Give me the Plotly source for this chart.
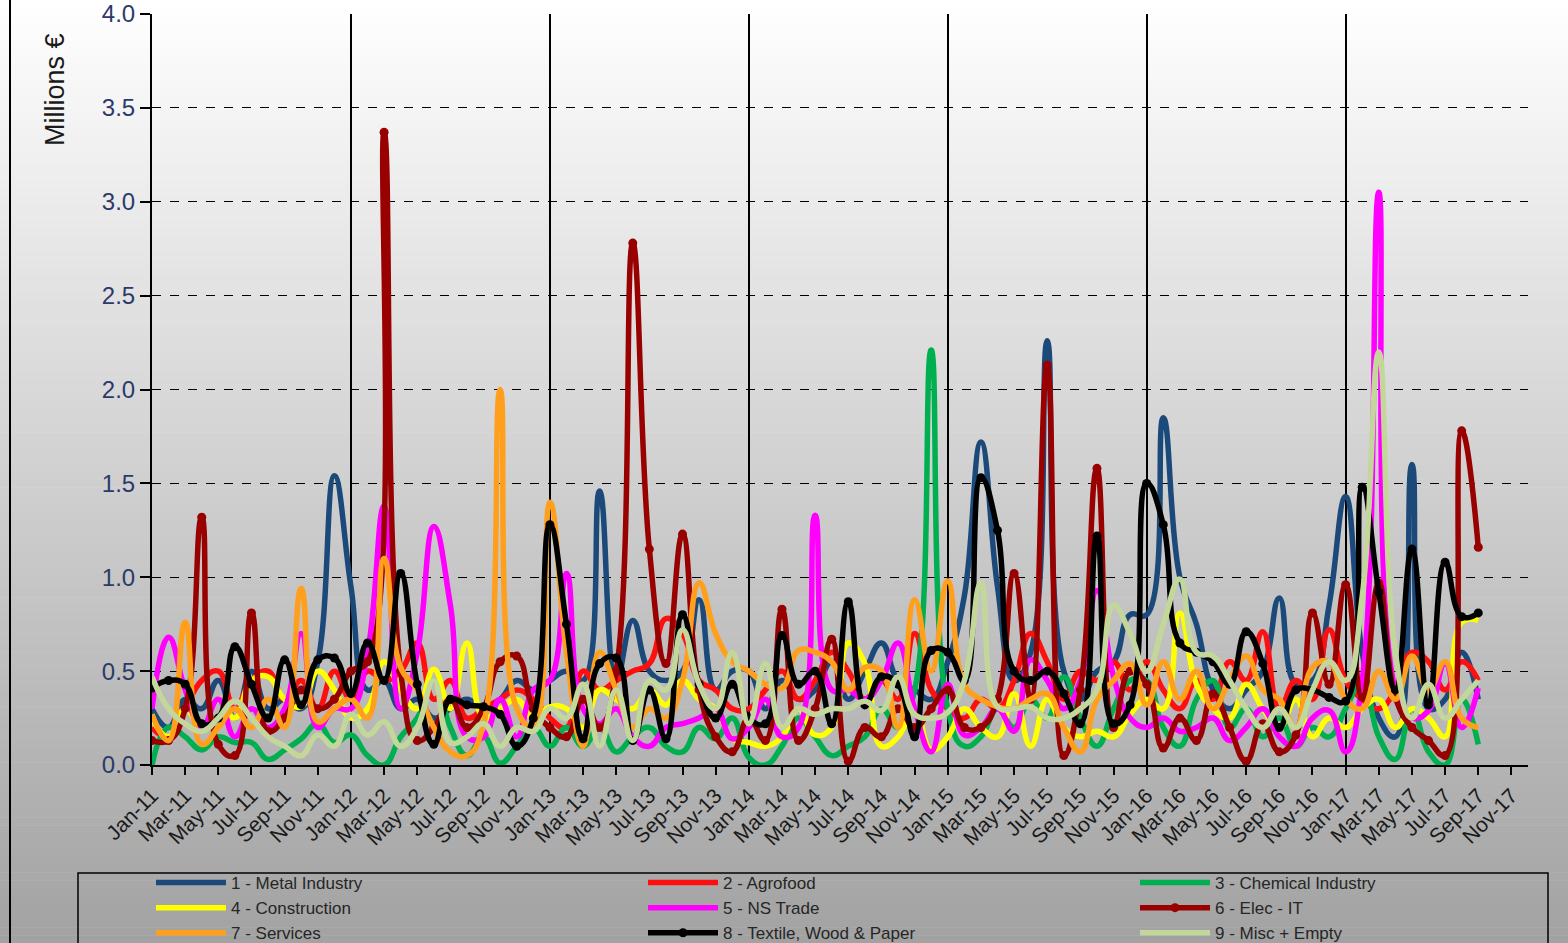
import plotly.graph_objects as go

# ---------------- data ----------------
MONTH_NAMES = ["Jan", "Feb", "Mar", "Apr", "May", "Jun", "Jul", "Aug", "Sep", "Oct", "Nov", "Dec"]
YEARS = ["11", "12", "13", "14", "15", "16", "17"]
ALL_MONTHS = [f"{m}-{y}" for y in YEARS for m in MONTH_NAMES]   # axis runs Jan-11 .. Dec-17
MONTHS = ALL_MONTHS[:81]                                          # data Jan-11 .. Sep-17
TICK_LABELS = ALL_MONTHS[::2]                                     # Jan-11, Mar-11, ... Nov-17
GRID_MONTHS = [m for m in ALL_MONTHS if m.startswith("Jan")]

SERIES_NAMES = ["1 - Metal Industry", "2 - Agrofood", "3 - Chemical Industry",
                "4 - Construction", "5 - NS Trade", "6 - Elec - IT",
                "7 - Services", "8 - Textile, Wood & Paper", "9 - Misc + Empty"]

METAL = [0.30, 0.20, 0.35, 0.30, 0.45, 0.25, 0.50, 0.30, 0.35, 0.30, 0.55, 1.54,
         0.95, 0.40, 0.45, 0.30, 0.35, 0.25, 0.30, 0.35, 0.30, 0.35, 0.45, 0.40,
         0.45, 0.50, 0.45, 1.46, 0.45, 0.77, 0.50, 0.45, 0.50, 0.88, 0.40, 0.50,
         0.50, 0.30, 0.45, 0.35, 0.40, 0.55, 0.35, 0.50, 0.65, 0.45, 0.40, 0.35,
         0.55, 0.90, 1.72, 0.95, 0.45, 0.60, 2.26, 0.50, 0.35, 0.50, 0.55, 0.80,
         0.80, 1.85, 1.00, 0.75, 0.40, 0.30, 0.40, 0.50, 0.89, 0.43, 0.45, 0.85,
         1.43, 0.60, 0.25, 0.15, 1.60, 0.30, 0.35, 0.60, 0.35]
AGROFOOD = [0.20, 0.15, 0.30, 0.45, 0.50, 0.30, 0.45, 0.50, 0.35, 0.45, 0.30, 0.50,
            0.35, 0.50, 0.45, 0.50, 0.65, 0.35, 0.45, 0.25, 0.30, 0.35, 0.40, 0.35,
            0.25, 0.20, 0.50, 0.40, 0.45, 0.50, 0.54, 0.78, 0.70, 0.45, 0.40, 0.30,
            0.30, 0.40, 0.50, 0.35, 0.45, 0.60, 0.50, 0.35, 0.45, 0.35, 0.70, 0.40,
            0.30, 0.25, 0.35, 0.30, 0.45, 0.70, 0.55, 0.35, 0.50, 0.45, 0.55, 0.40,
            0.55, 0.40, 0.30, 0.45, 0.35, 0.55, 0.45, 0.71, 0.30, 0.45, 0.35, 0.72,
            0.45, 0.35, 0.30, 0.40, 0.60, 0.55, 0.40, 0.55, 0.45]
CHEMICAL = [0.00, 0.20, 0.15, 0.08, 0.15, 0.12, 0.12, 0.03, 0.08, 0.14, 0.22, 0.12,
            0.16, 0.05, 0.00, 0.15, 0.25, 0.45, 0.20, 0.05, 0.15, 0.01, 0.10, 0.20,
            0.10, 0.20, 0.10, 0.20, 0.07, 0.15, 0.20, 0.10, 0.07, 0.20, 0.14, 0.25,
            0.04, 0.00, 0.10, 0.25, 0.15, 0.05, 0.10, 0.15, 0.30, 0.20, 0.40, 2.21,
            0.30, 0.10, 0.15, 0.30, 0.20, 0.35, 0.25, 0.47, 0.25, 0.10, 0.30, 0.45,
            0.45, 0.20, 0.10, 0.35, 0.45, 0.20, 0.30, 0.15, 0.25, 0.10, 0.20, 0.15,
            0.30, 0.45, 0.15, 0.03, 0.30, 0.07, 0.00, 0.35, 0.11]
CONSTRUCTION = [0.25, 0.15, 0.30, 0.20, 0.35, 0.25, 0.45, 0.47, 0.35, 0.31, 0.50, 0.40,
                0.25, 0.30, 0.55, 0.40, 0.30, 0.51, 0.30, 0.65, 0.25, 0.30, 0.35, 0.25,
                0.31, 0.30, 0.20, 0.40, 0.35, 0.30, 0.40, 0.32, 0.45, 0.35, 0.30, 0.14,
                0.12, 0.10, 0.15, 0.30, 0.16, 0.20, 0.65, 0.54, 0.10, 0.15, 0.30, 0.08,
                0.15, 0.30, 0.20, 0.15, 0.38, 0.10, 0.35, 0.20, 0.15, 0.18, 0.15, 0.27,
                0.35, 0.30, 0.81, 0.43, 0.30, 0.25, 0.43, 0.30, 0.20, 0.35, 0.15, 0.25,
                0.20, 0.30, 0.35, 0.20, 0.30, 0.25, 0.15, 0.76, 0.77]
NS_TRADE = [0.30, 0.68, 0.40, 0.20, 0.35, 0.15, 0.30, 0.20, 0.30, 0.70, 0.20, 0.30,
            0.30, 0.60, 1.38, 0.30, 0.60, 1.27, 0.85, 0.15, 0.15, 0.35, 0.15, 0.40,
            0.45, 1.02, 0.30, 0.22, 0.30, 0.15, 0.10, 0.20, 0.22, 0.25, 0.30, 0.14,
            0.20, 0.35, 0.15, 0.20, 1.33, 0.40, 0.40, 0.35, 0.45, 0.65, 0.30, 0.07,
            0.43, 0.16, 0.20, 0.30, 0.18, 0.56, 0.45, 0.30, 0.45, 0.93, 0.47, 0.25,
            0.20, 0.25, 0.18, 0.20, 0.25, 0.13, 0.20, 0.30, 0.15, 0.10, 0.25, 0.29,
            0.07, 0.45, 3.05, 0.40, 0.25, 0.29, 0.54, 0.20, 0.41]
ELEC_IT = [0.13, 0.13, 0.30, 1.32, 0.11, 0.05, 0.81, 0.18, 0.25, 0.40, 0.30, 0.35,
           0.50, 0.55, 3.37, 0.50, 0.13, 0.20, 0.35, 0.20, 0.30, 0.55, 0.58, 0.30,
           0.20, 0.15, 0.35, 0.20, 0.50, 2.78, 1.15, 0.54, 1.23, 0.40, 0.15, 0.07,
           0.25, 0.13, 0.83, 0.13, 0.30, 0.67, 0.02, 0.20, 0.15, 0.30, 0.20, 0.30,
           0.40, 0.20, 0.20, 0.35, 1.02, 0.35, 2.13, 0.05, 0.40, 1.58, 0.20, 0.50,
           0.43, 0.09, 0.25, 0.13, 0.38, 0.20, 0.02, 0.22, 0.07, 0.16, 0.81, 0.43,
           0.96, 0.36, 0.97, 0.36, 0.20, 0.13, 0.05, 1.78, 1.16]
SERVICES = [0.27, 0.13, 0.76, 0.11, 0.20, 0.30, 0.20, 0.35, 0.20, 0.94, 0.23, 0.30,
            0.35, 0.25, 1.10, 0.52, 0.40, 0.20, 0.07, 0.05, 0.22, 2.00, 0.30, 0.20,
            1.40, 0.60, 0.10, 0.60, 0.40, 0.20, 0.30, 0.25, 0.45, 0.97, 0.70, 0.55,
            0.50, 0.43, 0.41, 0.61, 0.60, 0.55, 0.40, 0.52, 0.50, 0.20, 0.88, 0.50,
            0.98, 0.43, 0.35, 0.31, 0.30, 0.35, 0.38, 0.20, 0.07, 0.35, 0.45, 0.54,
            0.32, 0.55, 0.35, 0.50, 0.30, 0.45, 0.58, 0.40, 0.35, 0.20, 0.52, 0.55,
            0.35, 0.30, 0.50, 0.35, 0.58, 0.40, 0.55, 0.25, 0.20]
TEXTILE = [0.41, 0.45, 0.43, 0.22, 0.25, 0.63, 0.43, 0.25, 0.56, 0.32, 0.56, 0.57,
           0.38, 0.65, 0.45, 1.02, 0.43, 0.11, 0.35, 0.32, 0.31, 0.27, 0.10, 0.25,
           1.28, 0.75, 0.14, 0.54, 0.57, 0.13, 0.40, 0.14, 0.80, 0.43, 0.25, 0.43,
           0.25, 0.22, 0.69, 0.43, 0.50, 0.22, 0.87, 0.32, 0.47, 0.43, 0.15, 0.61,
           0.60, 0.45, 1.53, 1.25, 0.50, 0.45, 0.50, 0.38, 0.22, 1.22, 0.22, 0.32,
           1.50, 1.28, 0.65, 0.60, 0.55, 0.43, 0.71, 0.54, 0.20, 0.40, 0.40, 0.36,
           0.34, 1.48, 0.92, 0.40, 1.15, 0.32, 1.08, 0.79, 0.81]
MISC = [0.47, 0.30, 0.22, 0.18, 0.25, 0.34, 0.25, 0.15, 0.10, 0.05, 0.16, 0.10,
        0.27, 0.16, 0.23, 0.10, 0.20, 0.45, 0.12, 0.15, 0.22, 0.10, 0.20, 0.18,
        0.30, 0.25, 0.43, 0.10, 0.40, 0.13, 0.45, 0.40, 0.72, 0.43, 0.30, 0.60,
        0.22, 0.54, 0.20, 0.30, 0.27, 0.30, 0.30, 0.34, 0.29, 0.47, 0.27, 0.25,
        0.28, 0.45, 0.97, 0.31, 0.30, 0.31, 0.25, 0.25, 0.30, 0.40, 0.85, 0.70,
        0.50, 0.75, 0.99, 0.60, 0.58, 0.45, 0.30, 0.20, 0.30, 0.20, 0.40, 0.55,
        0.45, 0.90, 2.20, 0.60, 0.25, 0.43, 0.25, 0.35, 0.45]

SERIES_VALUES = [METAL, AGROFOOD, CHEMICAL, CONSTRUCTION, NS_TRADE, ELEC_IT, SERVICES, TEXTILE, MISC]

# ---------------- style ----------------
COLORS = ["#1B4A7A", "#FF1010", "#00B050", "#FFFF00", "#FF00FF",
          "#990000", "#FF9F1C", "#000000", "#C4D79B"]
WITH_MARKERS = [False, False, False, False, False, True, False, True, False]
FONT = "Liberation Sans, Arial, sans-serif"

W, H = 1568, 943
L, R, T, B = 152, 40, 14, 178
PW, PH = W - L - R, H - T - B


def px_x(x):
    return (x - L) / PW


def px_y(y):
    return (H - B - y) / PH


x_pos = [ALL_MONTHS.index(m) for m in MONTHS]

fig = go.Figure()
for name, vals, color, mk in zip(SERIES_NAMES, SERIES_VALUES, COLORS, WITH_MARKERS):
    fig.add_trace(go.Scatter(
        x=x_pos, y=vals, name=name,
        mode="lines+markers" if mk else "lines",
        line=dict(color=color, width=5.5, shape="spline", smoothing=1.3),
        marker=dict(size=9, color=color),
        hoverinfo="skip",
    ))

# gradient background (white at top -> grey at bottom)
shapes = []
n_bands = 120
for i in range(n_bands):
    y0 = i * H / n_bands
    y1 = (i + 1) * H / n_bands
    v = int(round(255 - 93 * ((y0 + y1) / 2) / H))
    shapes.append(dict(type="rect", xref="paper", yref="paper",
                       x0=px_x(0), x1=px_x(W), y0=px_y(y1 + 0.5), y1=px_y(y0),
                       fillcolor=f"rgb({v},{v},{v})", line=dict(width=0), layer="below"))
# frame line on the left
shapes.append(dict(type="line", xref="paper", yref="paper",
                   x0=px_x(10), x1=px_x(10), y0=px_y(0), y1=px_y(H),
                   line=dict(color="black", width=2), layer="above"))
# legend box
shapes.append(dict(type="rect", xref="paper", yref="paper",
                   x0=px_x(78), x1=px_x(1548), y0=px_y(873), y1=px_y(955),
                   line=dict(color="black", width=1.5), fillcolor="rgba(0,0,0,0)", layer="above"))

fig.update_layout(
    width=W, height=H,
    margin=dict(l=L, r=R, t=T, b=B, autoexpand=False),
    paper_bgcolor="white", plot_bgcolor="rgba(0,0,0,0)",
    font=dict(family=FONT, color="#1a1a1a"),
    shapes=shapes,
    showlegend=True,
    hovermode=False,
    legend=dict(orientation="h", xanchor="left", yanchor="top",
                x=px_x(151), y=px_y(865),
                entrywidth=407, entrywidthmode="pixels",
                itemwidth=70, tracegroupgap=0,
                font=dict(size=17, color="#262626", family=FONT),
                bgcolor="rgba(0,0,0,0)", borderwidth=0),
    xaxis=dict(
        range=[0, len(ALL_MONTHS) - 1],
        tickmode="array",
        tickvals=[ALL_MONTHS.index(t) for t in TICK_LABELS],
        ticktext=TICK_LABELS,
        tickangle=-45,
        ticks="outside", ticklen=8, tickwidth=1.5, tickcolor="black",
        showline=True, linecolor="black", linewidth=2,
        showgrid=False, zeroline=False, automargin=False,
        tickfont=dict(size=21, color="#1a1a1a", family=FONT),
        minor=dict(tickmode="array", tickvals=[ALL_MONTHS.index(g) for g in GRID_MONTHS],
                   showgrid=True, gridcolor="black", gridwidth=1.5, ticks=""),
    ),
    yaxis=dict(
        range=[0, 4], tickmode="linear", tick0=0, dtick=0.5, tickformat=".1f",
        ticks="outside", ticklen=10, tickwidth=1.5, tickcolor="black",
        showline=True, linecolor="black", linewidth=2,
        showgrid=True, gridcolor="black", griddash="dash", gridwidth=1,
        zeroline=False, automargin=False,
        tickfont=dict(size=24, color="#2B3A6B", family=FONT),
    ),
    annotations=[dict(text="Millions €", xref="paper", yref="paper",
                      x=px_x(55), y=px_y(90), xanchor="center", yanchor="middle",
                      textangle=-90, showarrow=False,
                      font=dict(size=27, color="#1a1a1a", family=FONT))],
)

fig.write_html("out.html", config={"displayModeBar": False},
               post_script="document.body.style.margin='0';document.body.style.overflow='hidden';")
